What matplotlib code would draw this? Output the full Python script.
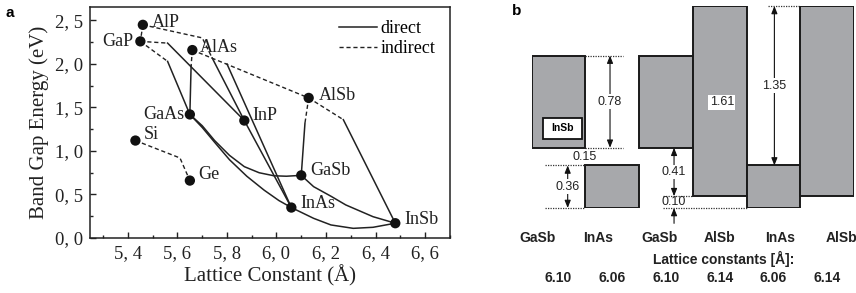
import matplotlib
matplotlib.use("Agg")
import matplotlib.pyplot as plt
import numpy as np
from matplotlib.ticker import MultipleLocator, FuncFormatter
from matplotlib.patches import Rectangle
from matplotlib.lines import Line2D

# ---------------- panel a data ----------------
compounds = ["AlP", "GaP", "AlAs", "AlSb", "GaAs", "InP", "Si", "Ge", "GaSb", "InAs", "InSb"]
lattice = [5.46, 5.45, 5.66, 6.13, 5.65, 5.87, 5.43, 5.65, 6.10, 6.06, 6.48]
band_gap = [2.45, 2.26, 2.16, 1.61, 1.42, 1.35, 1.12, 0.66, 0.72, 0.35, 0.17]

# branches: compound names or (lattice, gap) waypoints
indirect_paths = [
    ["AlP", (5.70, 2.30), (5.74, 2.07)],
    ["AlP", "GaP"],
    ["GaP", (5.56, 2.24)],
    ["GaP", (5.56, 2.03)],
    ["AlAs", "AlSb"],
    ["AlAs", (5.655, 1.98)],
    ["AlSb", (6.115, 1.32)],
    ["AlSb", (6.27, 1.36)],
    ["Si", (5.61, 0.92), "Ge"],
]
direct_paths = [
    [(5.56, 2.24), "InP"],
    [(5.56, 2.03), "GaAs"],
    [(5.655, 1.98), "GaAs"],
    [(5.74, 2.07), "InP", "InAs"],
    [(5.80, 2.00), "InAs"],
    [(6.115, 1.32), "GaSb"],
    [(6.27, 1.36), "InSb"],
    ["GaAs", (5.70, 1.29), (5.75, 1.12), (5.81, 0.95), (5.87, 0.82), (5.93, 0.75), (5.99, 0.715), (6.04, 0.71), "GaSb"],
    ["GaAs", (5.70, 1.27), (5.75, 1.10), (5.81, 0.90), (5.88, 0.71), (5.95, 0.55), (6.01, 0.43), "InAs"],
    ["InAs", (6.15, 0.226), (6.22, 0.15), (6.31, 0.111), (6.39, 0.123), "InSb"],
    ["GaSb", (6.15, 0.59), (6.22, 0.48), (6.28, 0.38), (6.39, 0.245), "InSb"],
]
label_offsets = {  # text placement in points (layout only)
    "AlP": (6.5, 2, "left"), "GaP": (-5, 0, "right"), "AlAs": (5.5, 2, "left"),
    "AlSb": (7, 2, "left"), "GaAs": (-4, 0, "right"), "InP": (6, 3.5, "left"),
    "Si": (6, 4, "left"), "Ge": (6, 4.5, "left"), "GaSb": (6.5, 3.5, "left"),
    "InAs": (6.5, 3, "left"), "InSb": (6.5, 3, "left"),
}
x_ticks = [5.4, 5.6, 5.8, 6.0, 6.2, 6.4, 6.6]
y_ticks = [0.0, 0.5, 1.0, 1.5, 2.0, 2.5]

# ---------------- panel b data ----------------
materials = ["GaSb", "InAs", "GaSb", "AlSb", "InAs", "AlSb"]
valence = [0.00, -0.51, 0.00, -0.41, -0.51, -0.41]
conduction = [0.78, -0.15, 0.78, 1.20, -0.15, 1.20]
lattice_b = ["6.10", "6.06", "6.10", "6.14", "6.06", "6.14"]

W, H = 856, 293
fig = plt.figure(figsize=(W / 100, H / 100), dpi=100)
serif = ["Liberation Serif", "DejaVu Serif"]
sans = ["Liberation Sans", "DejaVu Sans"]

# ================= panel a =================
ax = fig.add_axes([90 / W, (H - 238) / H, 360 / W, 231 / H])
pos = {n: (a, e) for n, a, e in zip(compounds, lattice, band_gap)}


def resolve(path):
    pts = [pos[p] if isinstance(p, str) else p for p in path]
    return np.array(pts)


for p in indirect_paths:
    pts = resolve(p)
    ax.plot(pts[:, 0], pts[:, 1], color="#222222", lw=1.0, ls=(0, (3, 2)), zorder=2)
for p in direct_paths:
    pts = resolve(p)
    ax.plot(pts[:, 0], pts[:, 1], color="#222222", lw=1.1, ls="-", zorder=2)

ax.scatter(lattice, band_gap, s=55, color="#111111", zorder=4, edgecolors="none")
for n, a, e in zip(compounds, lattice, band_gap):
    dx, dy, ha = label_offsets[n]
    ax.annotate(n, (a, e), xytext=(dx, dy), textcoords="offset points", ha=ha, va="center",
                fontsize=13, family=serif, color="#222222")

ax.set_xlim(5.2465, 6.701)
ax.set_ylim(0, 2.655)
ax.set_xticks(x_ticks)
ax.set_yticks(y_ticks)
ax.xaxis.set_minor_locator(MultipleLocator(0.1))
ax.yaxis.set_minor_locator(MultipleLocator(0.25))
fmt = FuncFormatter(lambda v, p: f"{v:.1f}".replace(".", ", "))
ax.xaxis.set_major_formatter(fmt)
ax.yaxis.set_major_formatter(fmt)
ax.tick_params(which="both", direction="in", top=False, right=False, width=1.0, colors="#222222")
ax.tick_params(which="major", length=4, labelsize=13.5, pad=5)
ax.tick_params(which="minor", length=2.5)
for lab in ax.get_xticklabels() + ax.get_yticklabels():
    lab.set_family(serif)
for s in ax.spines.values():
    s.set_linewidth(1.1)
    s.set_color("#222222")
ax.set_xlabel("Lattice Constant (Å)", fontsize=15, family=serif, color="#222222", labelpad=2)
ax.set_ylabel("Band Gap Energy (eV)", fontsize=15, family=serif, color="#222222", labelpad=4)

handles = [Line2D([], [], color="#222222", lw=1.1, ls="-"),
           Line2D([], [], color="#222222", lw=1.0, ls=(0, (3, 2)))]
ax.legend(handles, ["direct", "indirect"], loc="upper right", frameon=False,
          prop={"family": serif, "size": 13}, handlelength=2.1, handletextpad=0.2,
          labelspacing=0.15, bbox_to_anchor=(0.99, 0.99), borderaxespad=0.2)

fig.text(5 / W, 1 - 13 / H, "a", fontsize=11, fontweight="bold", family=sans, va="center", ha="left")
fig.text(512 / W, 1 - 11 / H, "b", fontsize=11, fontweight="bold", family=sans, va="center", ha="left")

# ================= panel b =================
bx = fig.add_axes([531.7 / W, (H - 208) / H, 322.3 / W, 202 / H])
bx.set_xlim(-0.5, 5.5)
bx.set_ylim(-0.51, 1.20)
bx.axis("off")
xb = np.arange(len(materials))
heights = [c - v for c, v in zip(conduction, valence)]
bx.bar(xb, heights, bottom=valence, width=1.0, color="#a7a8ab", edgecolor="#1a1a1a",
       linewidth=1.4, zorder=2)

dot = dict(color="#333333", lw=0.9, ls=(0, (1, 1)), clip_on=False, zorder=1)
arr = dict(arrowstyle="-|>,head_length=0.45,head_width=0.18", color="#111111", lw=0.8,
           shrinkA=0, shrinkB=0)
num = dict(fontsize=9, family=sans, color="#222222", ha="center", va="center", zorder=5)
wbox = dict(facecolor="white", edgecolor="none", pad=1.0)


def double_arrow(x, y0, y1, text):
    mid = (y0 + y1) / 2
    bx.annotate("", xy=(x, y0), xytext=(x, mid), arrowprops=arr, annotation_clip=False)
    bx.annotate("", xy=(x, y1), xytext=(x, mid), arrowprops=arr, annotation_clip=False)
    bx.text(x, mid, text, bbox=wbox, **num)


# GaSb / InAs (0.78 gap, 0.15 overlap, 0.36 gap)
bx.plot([0.5, 1.2], [conduction[0], conduction[0]], **dot)
bx.plot([0.5, 1.2], [valence[0], valence[0]], **dot)
double_arrow(0.958, valence[0], conduction[0], f"{conduction[0] - valence[0]:.2f}")
bx.text(0.49, (valence[0] + conduction[1]) / 2 - 0.005, f"{valence[0] - conduction[1]:.2f}", **num)
bx.plot([-0.25, 0.5], [conduction[1], conduction[1]], **dot)
bx.plot([-0.25, 0.5], [valence[1], valence[1]], **dot)
double_arrow(0.17, valence[1], conduction[1], f"{conduction[1] - valence[1]:.2f}")

# GaSb / AlSb / InAs offsets
bx.plot([1.945, 2.5], [valence[3], valence[3]], **dot)
bx.plot([1.945, 3.5], [valence[4], valence[4]], **dot)
double_arrow(2.15, valence[3], valence[2], f"{valence[2] - valence[3]:.2f}")
bx.text(2.15, (valence[3] + valence[4]) / 2, f"{valence[3] - valence[4]:.2f}", **num)
bx.annotate("", xy=(2.15, valence[4]), xytext=(2.15, valence[4] - 0.13), arrowprops=arr,
            annotation_clip=False)
bx.text(3.04, (valence[3] + conduction[3]) / 2 - 0.01, f"{conduction[3] - valence[3]:.2f}",
        bbox=wbox, **num)
bx.plot([3.9, 4.5], [conduction[5], conduction[5]], **dot)
double_arrow(4.018, conduction[4], conduction[5], f"{conduction[5] - conduction[4]:.2f}")

# InSb marker box on the first GaSb bar
bx.add_patch(Rectangle((-0.29, 0.074), 0.72, 0.178, facecolor="white", edgecolor="#111111",
                       lw=1.3, zorder=4, clip_on=False))
bx.text(0.07, 0.163, "InSb", fontsize=7.5, fontweight="bold", family=sans, ha="center",
        va="center", zorder=5)

# labels underneath
for i, (m, lc) in enumerate(zip(materials, lattice_b)):
    bx.text(i * 1.13 - 0.39, -0.764, m, fontsize=10, fontweight="bold", family=sans,
            ha="center", va="center", color="#222222", clip_on=False)
    bx.text(xb[i], -1.105, lc, fontsize=10, fontweight="bold", family=sans,
            ha="center", va="center", color="#222222", clip_on=False)
bx.text(3.08, -0.944, "Lattice constants [Å]:", fontsize=10, fontweight="bold", family=sans,
        ha="center", va="center", color="#222222", clip_on=False)

fig.savefig("out.png", dpi=100)
